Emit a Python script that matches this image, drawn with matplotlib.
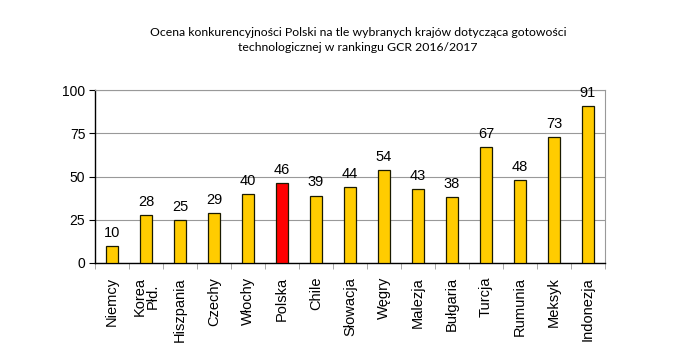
import matplotlib
matplotlib.use("Agg")
import matplotlib.pyplot as plt
import numpy as np

categories = ["Niemcy", "Korea\nPłd.", "Hiszpania", "Czechy", "Włochy", "Polska", "Chile",
              "Słowacja", "Węgry", "Malezja", "Bułgaria", "Turcja", "Rumunia", "Meksyk", "Indonezja"]
values = [10, 28, 25, 29, 40, 46, 39, 44, 54, 43, 38, 67, 48, 73, 91]
yticks = [0, 25, 50, 75, 100]
title = "Ocena konkurencyjności Polski na tle wybranych krajów dotycząca gotowości\ntechnologicznej w rankingu GCR 2016/2017"

plt.rcParams['font.family'] = ['Liberation Sans', 'DejaVu Sans']

fig = plt.figure(figsize=(6.73, 3.57), dpi=100)
ax = fig.add_axes([95/673, 1 - 263/357, 510/673, 173/357])

n = len(categories)
x = np.arange(n)
colors = ['#FF0000' if c == 'Polska' else '#FFCC00' for c in categories]
bars = ax.bar(x, values, width=0.38, color=colors, edgecolor='#1a1a00', linewidth=0.9, zorder=3)
for xi, v in zip(x, values):
    ax.text(xi, v + 3.5, str(v), ha='center', va='bottom', fontsize=10.5, color='black')

ax.set_xlim(-0.5, n - 0.5)
ax.set_ylim(0, 100)
ax.set_yticks(yticks)
ax.set_yticklabels([str(t) for t in yticks], fontsize=10)
ax.yaxis.grid(True, color='#999999', linewidth=0.8, zorder=0)
ax.set_xticks(x)
ax.set_xticklabels(categories, rotation=90, fontsize=10.5, va='top', ha='center', linespacing=0.95)
ax.tick_params(axis='x', length=0, pad=10)
ax.set_xticks(np.arange(n + 1) - 0.5, minor=True)
ax.tick_params(axis='x', which='minor', length=4, color='#999999', direction='out')
ax.tick_params(axis='y', length=4, direction='out', pad=3)

for s in ['left', 'bottom']:
    ax.spines[s].set_color('black')
    ax.spines[s].set_linewidth(1.0)
for s in ['top', 'right']:
    ax.spines[s].set_color('#999999')
    ax.spines[s].set_linewidth(0.8)

fig.text(358/673, 1 - 40/357, title, ha='center', va='center', fontsize=8.8,
         family=['Lato', 'DejaVu Sans'], linespacing=1.35)

fig.savefig("out.png", dpi=100, facecolor='white')
